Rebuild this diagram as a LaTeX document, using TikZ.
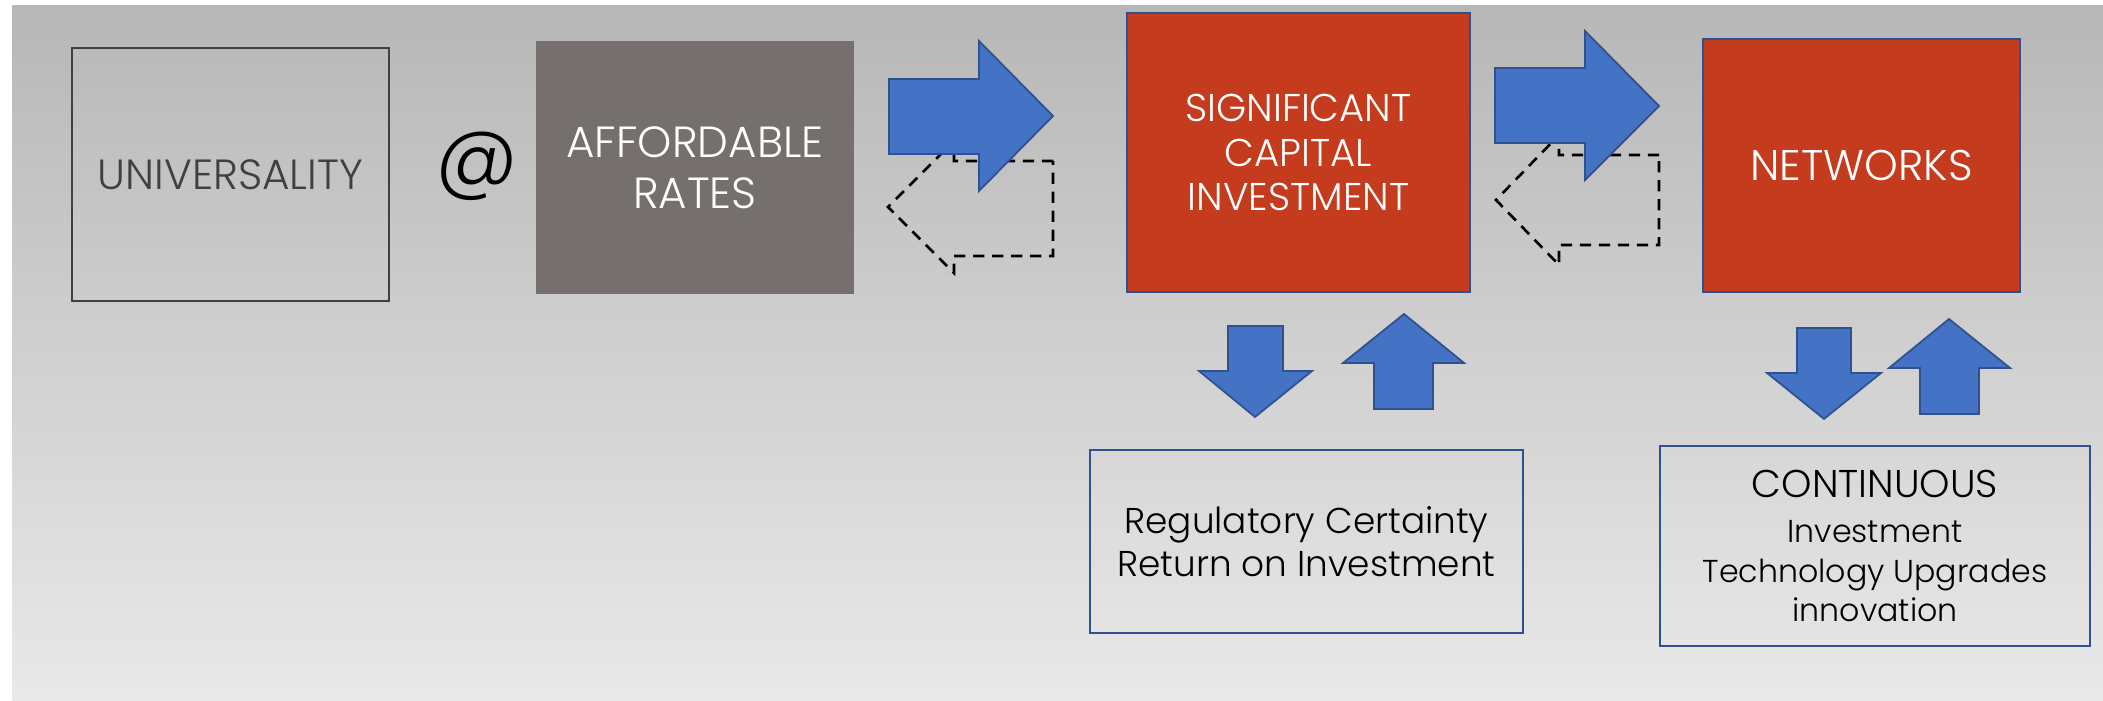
\documentclass[tikz,border=0pt]{standalone}
\usepackage{fontspec}
\setmainfont{Poppins}[UprightFont=* Light]
\definecolor{bgtop}{RGB}{183,183,183}
\definecolor{bgbot}{RGB}{233,233,233}
\definecolor{arrowblue}{RGB}{68,114,196}
\definecolor{arrowedge}{RGB}{47,82,143}
\definecolor{redbox}{RGB}{196,59,29}
\definecolor{affgray}{RGB}{117,112,110}
\definecolor{darktext}{RGB}{64,64,64}
\newcommand{\fsz}[2]{\fontsize{#1}{#2}\selectfont}
\begin{document}
\begin{tikzpicture}[x=0.01cm,y=-0.01cm,
  blockarrow/.style={fill=arrowblue, draw=arrowedge, line width=0.5pt, line join=miter},
  dasharrow/.style={draw=black, line width=0.75pt, dash pattern=on 3.2pt off 2.2pt},
  univbox/.style={draw=darktext, line width=0.7pt, minimum width=3.17cm, minimum height=2.53cm, inner sep=0pt, text=darktext, font=\fsz{12}{14.5}},
  affbox/.style={fill=affgray, minimum width=3.18cm, minimum height=2.53cm, inner sep=0pt, text=white, align=center, font=\fsz{12.4}{14.6}},
  redbx/.style={fill=redbox, draw=arrowedge, line width=0.6pt, inner sep=0pt, text=white, align=center},
  outbox/.style={draw=arrowedge, line width=0.7pt, inner sep=0pt, text=black, align=center}
]
\fill[white] (0,0) rectangle (2103,701);
\shade[top color=bgtop, bottom color=bgbot] (12,6) rectangle (2103,701);

% boxes
\node[univbox] (univ) at (230.5,174.5) {UNIVERSALITY};
\node[font=\fsz{23.5}{23.5}, text=black, inner sep=0pt] (at) at (477,166) {@};
\node[affbox] (aff) at (695,167.5) {AFFORDABLE\\RATES};
\node[redbx, minimum width=3.43cm, minimum height=2.79cm, font=\fsz{11}{12.7}] (sci) at (1298.5,152.5) {SIGNIFICANT\\CAPITAL\\INVESTMENT};
\node[redbx, minimum width=3.17cm, minimum height=2.53cm, font=\fsz{12.2}{14}] (net) at (1861.5,165.5) {NETWORKS};
\node[outbox, minimum width=4.33cm, minimum height=1.83cm, font=\fsz{10.2}{12.2}] (reg) at (1306.5,541.5) {Regulatory Certainty\\Return on Investment};
\node[outbox, minimum width=4.30cm, minimum height=2.00cm, font=\fsz{9}{11.3}] (cont) at (1875,546) {{\fsz{11}{13}CONTINUOUS}\\[1.5pt]Investment\\Technology Upgrades\\innovation};

% dashed return arrows (behind the blue ones)
\draw[dasharrow] (1053,161) -- (954,161) -- (954,141) -- (888,207) -- (954,273) -- (954,256) -- (1053,256) -- cycle;
\draw[dasharrow] (1659,155) -- (1559,155) -- (1559,135) -- (1496,200) -- (1559,265) -- (1559,245) -- (1659,245) -- cycle;

% blue forward arrows
\draw[blockarrow] (889,79) -- (979,79) -- (979,41) -- (1053,116) -- (979,191) -- (979,154) -- (889,154) -- cycle;
\draw[blockarrow] (1495,68) -- (1585,68) -- (1585,31) -- (1659,106) -- (1585,180) -- (1585,143) -- (1495,143) -- cycle;

% vertical arrows
\draw[blockarrow] (1228,326) -- (1283,326) -- (1283,371) -- (1312,371) -- (1255,417) -- (1199,371) -- (1228,371) -- cycle;
\draw[blockarrow] (1404,314) -- (1464,363) -- (1433,363) -- (1433,409) -- (1374,409) -- (1374,363) -- (1343,363) -- cycle;
\draw[blockarrow] (1797,328) -- (1851,328) -- (1851,373) -- (1881,373) -- (1824,419) -- (1767,373) -- (1797,373) -- cycle;
\draw[blockarrow] (1949,319) -- (2010,368) -- (1979,368) -- (1979,414) -- (1920,414) -- (1920,368) -- (1889,368) -- cycle;
\end{tikzpicture}
\end{document}
